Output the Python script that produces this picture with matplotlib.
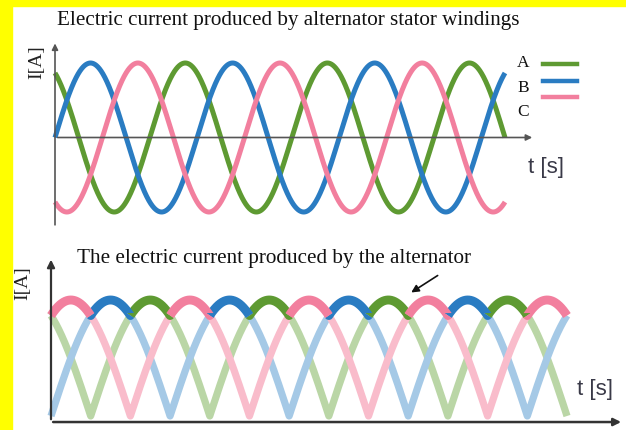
import numpy as np
import matplotlib.pyplot as plt

# phases (degrees): A leads B by 120, C lags B by 120
phase_names = ["A", "B", "C"]
phase_shift = [120, 0, -120]
colors = ["#5e9a32", "#2a7cc2", "#f27f9e"]
faded = ["#bad6a6", "#a5c9e6", "#f9bccb"]

# span of the curves in electrical degrees
top_span = 1140      # stator windings plot
bottom_span = 780    # rectified output plot

W, H = 626, 431

def fx(px):
    return px / W

def fy(py):
    return 1 - py / H

fig = plt.figure(figsize=(W / 100, H / 100), dpi=100)
fig.patch.set_facecolor("white")

# yellow frame on top and left
fig.patches.append(plt.Rectangle((0, fy(7)), 1, 1 - fy(7), transform=fig.transFigure,
                                 color="#ffff00", zorder=0))
fig.patches.append(plt.Rectangle((0, 0), fx(12), 1, transform=fig.transFigure,
                                 color="#ffff00", zorder=0))

serif = "Liberation Serif"
sans = "Liberation Sans"

# ---------------- top: three phase currents ----------------
ax1 = fig.add_axes([fx(55), fy(213), (505 - 55) / W, (213 - 64) / H])
ax1.set_xlim(0, top_span)
ax1.set_ylim(-1, 1)
ax1.axis("off")

th = np.linspace(0, top_span, 3000)
for name, sh, c in zip(phase_names, phase_shift, colors):
    ax1.plot(th, np.sin(np.radians(th + sh)), color=c, lw=3.6,
             solid_capstyle="butt", clip_on=False)

axis_col = "#555555"
ax1.annotate("", xy=(0, 1.30), xytext=(0, -1.21),
             arrowprops=dict(arrowstyle="-|>", color=axis_col, lw=1.2, mutation_scale=9),
             annotation_clip=False)
ax1.annotate("", xy=(1216, 0), xytext=(0, 0),
             arrowprops=dict(arrowstyle="-|>", color=axis_col, lw=1.2, mutation_scale=9),
             annotation_clip=False)

fig.text(fx(57), fy(21), "Electric current produced by alternator stator windings",
         family=serif, fontsize=15.2, va="center", ha="left", color="#111111")
fig.text(fx(37), fy(62), "I[A]", family=serif, fontsize=14, rotation=90,
         va="center", ha="center", color="#222222")
fig.text(fx(528), fy(168), "t [s]", family=sans, fontsize=16, va="center",
         ha="left", color="#3a3a48")

# manual legend
label_y = [63, 88, 112]
line_y = [65, 82, 98]
for name, c, ly, lny in zip(phase_names, colors, label_y, line_y):
    fig.text(fx(523), fy(ly), name, family=serif, fontsize=12.5, va="center",
             ha="center", color="#111111")
    fig.lines.append(plt.Line2D([fx(543), fx(577)], [fy(lny), fy(lny)],
                                transform=fig.transFigure, color=c, lw=3.2))

# ---------------- bottom: rectified output ----------------
ax2 = fig.add_axes([fx(51), fy(417), (567 - 51) / W, (417 - 301) / H])
ax2.set_xlim(0, bottom_span)
ax2.set_ylim(0, 1)
ax2.axis("off")

tb = np.linspace(0, bottom_span, 7801)
waves = [np.abs(np.sin(np.radians(tb + sh))) for sh in phase_shift]
for w, c in zip(waves, faded):
    ax2.plot(tb, w, color=c, lw=5.2, solid_capstyle="butt", clip_on=False)

stack = np.vstack(waves)
top_idx = np.argmax(stack, axis=0)
env = stack.max(axis=0)
for k, c in enumerate(colors):
    m = top_idx == k
    m = m | np.roll(m, 1) | np.roll(m, -1)
    ax2.plot(tb, np.where(m, env, np.nan), color=c, lw=6.4, solid_capstyle="butt",
             clip_on=False)

ax2.annotate("", xy=(0, 1.372), xytext=(0, -0.052),
             arrowprops=dict(arrowstyle="-|>", color="#333333", lw=1.6, mutation_scale=11),
             annotation_clip=False)
ax2.annotate("", xy=(866, -0.052), xytext=(-1, -0.052),
             arrowprops=dict(arrowstyle="-|>", color="#333333", lw=1.8, mutation_scale=11),
             annotation_clip=False)
ax2.annotate("", xy=(541, 1.052), xytext=(588, 1.224),
             arrowprops=dict(arrowstyle="-|>", color="#111111", lw=1.2, mutation_scale=11),
             annotation_clip=False)

fig.text(fx(77), fy(258), "The electric current produced by the alternator",
         family=serif, fontsize=15.2, va="center", ha="left", color="#111111")
fig.text(fx(23), fy(283), "I[A]", family=serif, fontsize=14, rotation=90,
         va="center", ha="center", color="#222222")
fig.text(fx(577), fy(390), "t [s]", family=sans, fontsize=16, va="center",
         ha="left", color="#3a3a48")

fig.savefig("out.png", dpi=100)
